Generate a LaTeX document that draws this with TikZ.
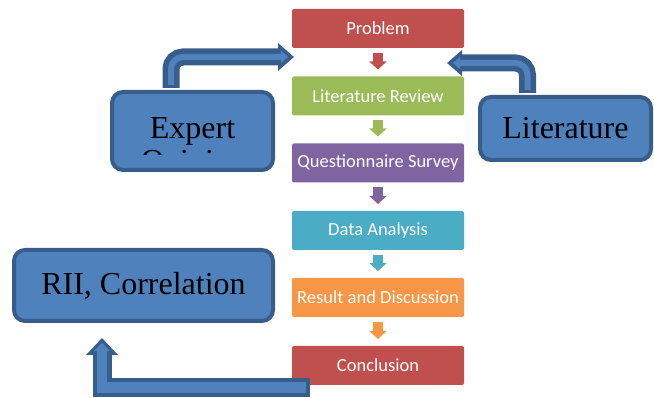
\documentclass[tikz,border=0pt]{standalone}
\usepackage{fontspec}
\setmainfont{Liberation Serif}
\newfontfamily\flowfont{Carlito}
\usetikzlibrary{arrows.meta}

\definecolor{probred}{HTML}{C0504D}
\definecolor{litgreen}{HTML}{9BBB59}
\definecolor{quespurple}{HTML}{8064A2}
\definecolor{datacyan}{HTML}{4BACC6}
\definecolor{resorange}{HTML}{F79646}
\definecolor{boxblue}{HTML}{4F81BD}
\definecolor{boxline}{HTML}{385D8A}

\begin{document}
\begin{tikzpicture}[x=1pt,y=-1pt,
	flowbox/.style={rectangle,rounded corners=2pt,minimum width=172pt,minimum height=39pt,
		inner sep=0pt,outer sep=0pt,text=white,font=\flowfont\fontsize{18.5}{20}\selectfont},
	flowarr/.style={line width=10pt,-{Triangle[length=8pt,width=17pt]},shorten <=5pt,shorten >=7pt},
	bigbox/.style={rectangle,rounded corners=11pt,draw=boxline,fill=boxblue,line width=4pt,
		font=\fontsize{32}{35}\selectfont},
	bendout/.style={draw=boxline,line width=17pt},
	bendin/.style={draw=boxblue,line width=6pt,shorten <=3pt}]

		\useasboundingbox (0,0) rectangle (654,398);

		% steps
		\draw (378,28.5) node [flowbox,fill=probred] (prob){Problem};
		\draw (378,96) node [flowbox,fill=litgreen] (litrev){Literature Review};
		\draw (378,163) node [flowbox,fill=quespurple] (ques){Questionnaire Survey};
		\draw (378,230.5) node [flowbox,fill=datacyan] (data){Data Analysis};
		\draw (378,297.5) node [flowbox,fill=resorange] (res){Result and Discussion};
		\draw (378,365.5) node [flowbox,fill=probred] (concl){Conclusion};

		\draw[flowarr,probred] (prob) -- (litrev);
		\draw[flowarr,litgreen] (litrev) -- (ques);
		\draw[flowarr,quespurple] (ques) -- (data);
		\draw[flowarr,datacyan] (data) -- (res);
		\draw[flowarr,resorange] (res) -- (concl);

		% inputs and tools
		\draw (192.5,131) node [bigbox,minimum width=161pt,minimum height=78pt] (expert){Expert};
		\begin{scope}
			\clip (112,92) rectangle (273,155);
			\draw (193.5,172) node [anchor=base,font=\fontsize{32}{35}\selectfont] (opinion){Opinion};
		\end{scope}
		\draw (565.5,128.5) node [bigbox,minimum width=171pt,minimum height=63pt] (lit){Literature};
		\draw (143.5,285.5) node [bigbox,minimum width=259pt,minimum height=71pt] (rii){RII, Correlation};

		\coordinate (exptip) at (294,57);
		\coordinate (littip) at (447,63);
		\coordinate (riifoot) at (310,387.5);
		\coordinate (riitip) at (102,338);

		\draw[bendout,-{Triangle[length=16pt,width=27pt]}]
			([xshift=-21.5pt,yshift=2pt]expert.north) [rounded corners=12pt] |- (exptip);
		\draw[bendin,-{Triangle[length=7pt,width=12pt]},shorten >=6pt]
			([xshift=-21.5pt,yshift=2pt]expert.north) [rounded corners=12pt] |- (exptip);

		\draw[bendout,-{Triangle[length=15pt,width=25pt]}]
			([xshift=-38pt,yshift=2pt]lit.north) [rounded corners=12pt] |- (littip);
		\draw[bendin,-{Triangle[length=7pt,width=12pt]},shorten >=6pt]
			([xshift=-38pt,yshift=2pt]lit.north) [rounded corners=12pt] |- (littip);

		\draw[bendout,line width=19pt,line join=miter,-{Triangle[length=17pt,width=31pt]}]
			(riifoot) -| (riitip);
		\draw[bendin,line width=10pt,line join=miter,-{Triangle[length=8pt,width=16pt]},shorten >=5pt,shorten <=4pt]
			(riifoot) -| (riitip);
	\end{tikzpicture}
\end{document}
